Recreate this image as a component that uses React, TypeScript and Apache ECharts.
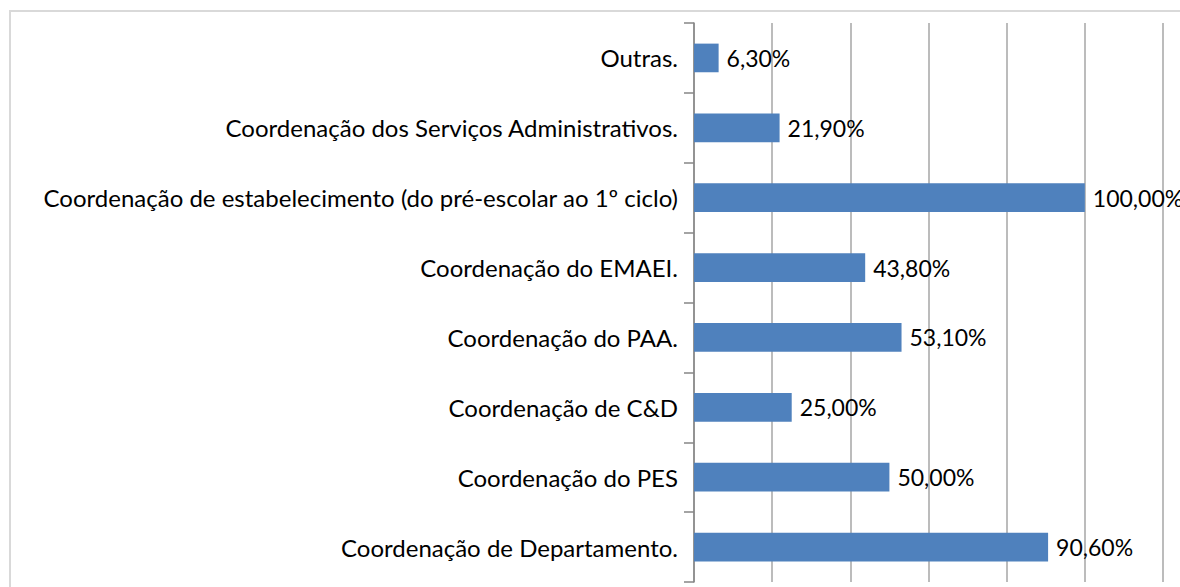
import React, { useEffect, useRef } from "react";
import * as echarts from "echarts";

const categories = [
  "Coordenação de Departamento.",
  "Coordenação do PES",
  "Coordenação de C&D",
  "Coordenação do PAA.",
  "Coordenação do EMAEI.",
  "Coordenação de estabelecimento (do pré-escolar ao 1º ciclo)",
  "Coordenação dos Serviços Administrativos.",
  "Outras.",
];
const values = [90.6, 50.0, 25.0, 53.1, 43.8, 100.0, 21.9, 6.3];

export default function App() {
  const ref = useRef<HTMLDivElement>(null);
  useEffect(() => {
    if (!ref.current) return;
    const chart = echarts.init(ref.current, null, { renderer: "svg" });
    chart.setOption({
      animation: false,
      backgroundColor: "#ffffff",
      textStyle: { fontFamily: "Lato" },
      graphic: [
        {
          type: "rect",
          shape: { x: 10, y: 11, width: 1200, height: 600 },
          style: { fill: "none", stroke: "#d9d9d9", lineWidth: 2 },
          silent: true,
          z: -10,
        },
      ],
      grid: { left: 694, top: 23, right: 17, bottom: 5, containLabel: false },
      xAxis: {
        type: "value",
        min: 0,
        max: 120,
        interval: 20,
        axisLabel: { show: false },
        axisLine: { show: false },
        axisTick: { show: false },
        splitLine: { show: true, lineStyle: { color: "#a6a6a6", width: 1.5 } },
      },
      yAxis: {
        type: "category",
        data: categories,
        axisLine: { show: true, lineStyle: { color: "#868686", width: 1.5 } },
        axisTick: { show: true, length: 10, lineStyle: { color: "#868686", width: 1.5 } },
        axisLabel: {
          color: "#000000",
          fontSize: 24,
          fontFamily: "Lato",
          margin: 16,
        },
      },
      series: [
        {
          type: "bar",
          data: values,
          barWidth: "41%",
          itemStyle: { color: "#4f81bd" },
          label: {
            show: true,
            position: "right",
            distance: 8,
            color: "#000000",
            fontSize: 23,
            fontFamily: "Lato",
            formatter: (p: any) => p.value.toFixed(2).replace(".", ",") + "%",
          },
        },
      ],
    });
    return () => chart.dispose();
  }, []);
  return (
    <div
      ref={ref}
      style={{ position: "fixed", left: 0, top: 0, width: 1180, height: 587 }}
    />
  );
}
